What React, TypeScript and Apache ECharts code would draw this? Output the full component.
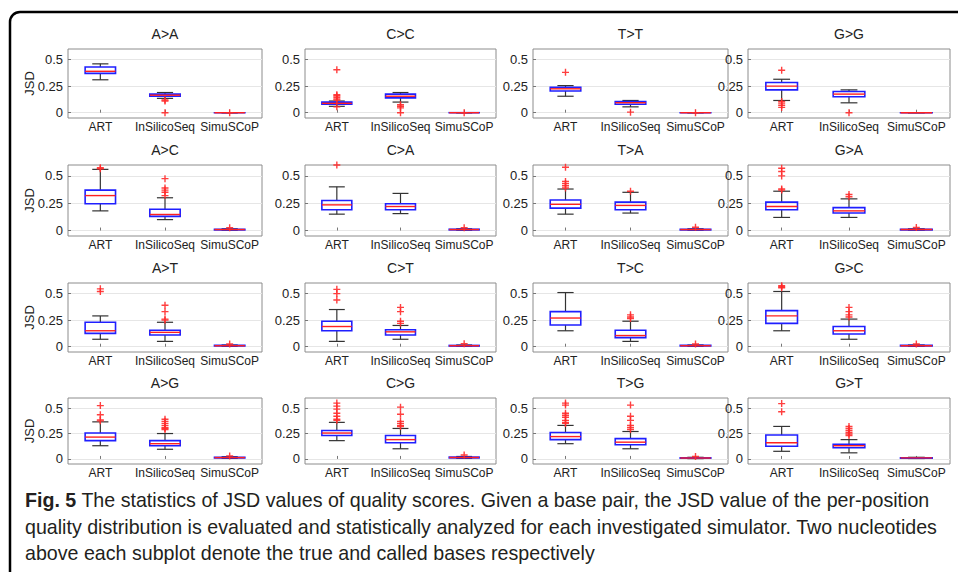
import React, { useEffect, useRef } from 'react';
import * as echarts from 'echarts';

// ---------- data ----------
const panelTitles = ['A>A', 'C>C', 'T>T', 'G>G', 'A>C', 'C>A', 'T>A', 'G>A', 'A>T', 'C>T', 'T>C', 'G>C', 'A>G', 'C>G', 'T>G', 'G>T'];
const simulators = ['ART', 'InSilicoSeq', 'SimuSCoP'];
const yTicks = [0, 0.25, 0.5];

// [lower whisker, Q1, median, Q3, upper whisker] per panel
const artStats = [
  [0.31, 0.37, 0.39, 0.43, 0.46],
  [0.06, 0.08, 0.088, 0.1, 0.11],
  [0.155, 0.205, 0.225, 0.24, 0.255],
  [0.115, 0.215, 0.25, 0.285, 0.315],
  [0.18, 0.245, 0.32, 0.37, 0.56],
  [0.15, 0.19, 0.235, 0.275, 0.4],
  [0.15, 0.205, 0.24, 0.28, 0.38],
  [0.12, 0.19, 0.22, 0.26, 0.36],
  [0.07, 0.125, 0.15, 0.23, 0.29],
  [0.05, 0.15, 0.19, 0.24, 0.35],
  [0.15, 0.205, 0.27, 0.33, 0.51],
  [0.15, 0.22, 0.29, 0.34, 0.52],
  [0.13, 0.18, 0.215, 0.255, 0.365],
  [0.18, 0.23, 0.255, 0.28, 0.36],
  [0.15, 0.19, 0.22, 0.26, 0.33],
  [0.075, 0.125, 0.16, 0.235, 0.32],
];
const issStats = [
  [0.135, 0.155, 0.165, 0.175, 0.19],
  [0.1, 0.14, 0.155, 0.175, 0.19],
  [0.055, 0.08, 0.094, 0.105, 0.115],
  [0.093, 0.15, 0.175, 0.2, 0.215],
  [0.1, 0.13, 0.147, 0.195, 0.3],
  [0.155, 0.19, 0.22, 0.245, 0.34],
  [0.16, 0.19, 0.23, 0.26, 0.35],
  [0.12, 0.16, 0.18, 0.21, 0.29],
  [0.05, 0.11, 0.135, 0.155, 0.23],
  [0.07, 0.11, 0.14, 0.16, 0.2],
  [0.05, 0.085, 0.105, 0.155, 0.24],
  [0.07, 0.12, 0.15, 0.19, 0.26],
  [0.095, 0.13, 0.15, 0.18, 0.25],
  [0.1, 0.16, 0.19, 0.23, 0.3],
  [0.1, 0.14, 0.165, 0.2, 0.27],
  [0.06, 0.11, 0.13, 0.145, 0.19],
];
const simStats = [
  [0, 0, 0, 0, 0],
  [0, 0, 0, 0, 0],
  [0, 0, 0, 0, 0],
  [0, 0, 0, 0, 0],
  [0.003, 0.006, 0.009, 0.012, 0.016],
  [0.003, 0.006, 0.009, 0.012, 0.016],
  [0.003, 0.006, 0.009, 0.012, 0.016],
  [0.003, 0.006, 0.009, 0.012, 0.016],
  [0.003, 0.006, 0.009, 0.012, 0.016],
  [0.003, 0.006, 0.009, 0.012, 0.016],
  [0.003, 0.006, 0.009, 0.012, 0.016],
  [0.003, 0.006, 0.009, 0.012, 0.016],
  [0.005, 0.01, 0.013, 0.017, 0.022],
  [0.005, 0.01, 0.014, 0.018, 0.024],
  [0.003, 0.006, 0.009, 0.012, 0.016],
  [0.004, 0.007, 0.01, 0.012, 0.016],
];

const artOutliers = [
  [],
  [0.405, 0.17, 0.16, 0.145, 0.13, 0.12, 0.055],
  [0.38],
  [0.4, 0.105, 0.09, 0.07, 0.05],
  [0.575, 0.565],
  [0.6],
  [0.58, 0.45, 0.43, 0.41, 0.39],
  [0.57, 0.54, 0.5, 0.38, 0.37],
  [0.545, 0.52],
  [0.54, 0.5, 0.44],
  [],
  [0.575, 0.565, 0.555],
  [0.525, 0.435, 0.385, 0.375],
  [0.55, 0.52, 0.49, 0.45, 0.42, 0.39, 0.38],
  [0.55, 0.53, 0.45, 0.43, 0.41, 0.38, 0.36, 0.35],
  [0.545, 0.465],
];
const issOutliers = [
  [0.12, 0.11, 0],
  [0.075, 0.06, 0.045, 0],
  [0.005],
  [0],
  [0.475, 0.39, 0.37, 0.35, 0.32],
  [],
  [0.36],
  [0.33, 0.31],
  [0.39, 0.33, 0.26, 0.25],
  [0.37, 0.33, 0.24, 0.22],
  [0.3, 0.28, 0.265],
  [0.37, 0.33, 0.3, 0.28],
  [0.39, 0.37, 0.35, 0.33, 0.31, 0.3, 0.29],
  [0.51, 0.44, 0.37, 0.35, 0.33, 0.32],
  [0.53, 0.42, 0.38, 0.33, 0.31, 0.29],
  [0.32, 0.3, 0.28, 0.26, 0.245, 0.23],
];
const simOutliers = [
  [0], [0], [0], [],
  [0.025], [0.025], [0.03], [0.028],
  [0.025], [0.028], [0.025], [0.025],
  [0.03], [0.038], [0.025], [],
];

const captionLines = [
  'The statistics of JSD values of quality scores. Given a base pair, the JSD value of the per-position',
  'quality distribution is evaluated and statistically analyzed for each investigated simulator. Two nucleotides',
  'above each subplot denote the true and called bases respectively',
];
const captionLabel = 'Fig. 5';

// ---------- layout ----------
const colLeft = [68, 305, 533, 748];
const colRight = [262, 496, 728, 950];
const rowTop = [49, 165, 283, 398];
const rowBottom = [118, 236, 352, 464];
const FONT = '"Liberation Sans", Arial, Helvetica, sans-serif';
const CAP_FONT = '"Liberation Sans", Arial, sans-serif';
const CAP_SIZE = 20;

const plusSymbol = 'path://M4,0H6V4H10V6H6V10H4V6H0V4H4Z';

function measure(font: string, text: string) {
  const ctx = document.createElement('canvas').getContext('2d');
  if (!ctx) return text.length * 9;
  ctx.font = font;
  return ctx.measureText(text).width;
}

export default function App() {
  const ref = useRef<HTMLDivElement>(null);

  useEffect(() => {
    if (!ref.current) return;
    const chart = echarts.init(ref.current, null, { renderer: 'svg' });

    const grids: any[] = [];
    const xAxes: any[] = [];
    const yAxes: any[] = [];
    const series: any[] = [];
    const titles: any[] = [];
    const statsBySim = [artStats, issStats, simStats];
    const outBySim = [artOutliers, issOutliers, simOutliers];

    panelTitles.forEach((t, i) => {
      const r = Math.floor(i / 4);
      const c = i % 4;
      const left = colLeft[c];
      const top = rowTop[r];
      const width = colRight[c] - left;
      const height = rowBottom[r] - top;
      grids.push({ left, top, width, height, show: true, borderColor: '#8c8c8c', borderWidth: 1, backgroundColor: '#fff' });
      titles.push({
        text: t,
        left: left + width / 2,
        top: top - 22,
        textAlign: 'center',
        padding: 0,
        textStyle: { fontSize: 14, fontWeight: 'normal', color: '#222', fontFamily: FONT },
      });
      xAxes.push({
        type: 'category',
        gridIndex: i,
        data: simulators,
        boundaryGap: true,
        axisLine: { show: false },
        axisTick: { show: true, inside: true, length: 3, alignWithLabel: true, lineStyle: { color: '#777' } },
        axisLabel: { color: '#222', fontSize: 12, fontFamily: FONT, margin: 3, interval: 0 },
        splitLine: { show: false },
      });
      yAxes.push({
        type: 'value',
        gridIndex: i,
        min: -0.05,
        max: 0.6,
        axisLine: { show: false },
        axisTick: { show: true, inside: true, length: 3, customValues: yTicks, lineStyle: { color: '#777' } },
        axisLabel: { customValues: yTicks, color: '#222', fontSize: 13, fontFamily: FONT, margin: 5, formatter: (v: number) => String(v) },
        splitLine: { show: true, lineStyle: { color: '#e6e6e6', width: 1 } },
        name: c === 0 ? 'JSD' : '',
        nameLocation: 'middle',
        nameRotate: 90,
        nameGap: 32,
        nameMoveOverlap: false,
        nameTextStyle: { fontSize: 13, color: '#222', fontFamily: FONT },
      });

      series.push({
        type: 'custom',
        xAxisIndex: i,
        yAxisIndex: i,
        z: 2,
        data: simulators.map((_, k) => [k, ...statsBySim[k][i]]),
        encode: { x: 0, y: [1, 2, 3, 4, 5] },
        renderItem: (params: any, api: any) => {
          const k = api.value(0);
          const lo = api.coord([k, api.value(1)]);
          const q1 = api.coord([k, api.value(2)]);
          const md = api.coord([k, api.value(3)]);
          const q3 = api.coord([k, api.value(4)]);
          const hi = api.coord([k, api.value(5)]);
          const band = api.size([1, 0])[0];
          const bw = band * 0.47;
          const cw = band * 0.25;
          const cx = md[0];
          const wStyle = { stroke: '#333', lineWidth: 1.2 };
          return {
            type: 'group',
            children: [
              { type: 'line', shape: { x1: cx, y1: lo[1], x2: cx, y2: q1[1] }, style: wStyle },
              { type: 'line', shape: { x1: cx, y1: q3[1], x2: cx, y2: hi[1] }, style: wStyle },
              { type: 'line', shape: { x1: cx - cw / 2, y1: lo[1], x2: cx + cw / 2, y2: lo[1] }, style: wStyle },
              { type: 'line', shape: { x1: cx - cw / 2, y1: hi[1], x2: cx + cw / 2, y2: hi[1] }, style: wStyle },
              {
                type: 'rect',
                shape: { x: cx - bw / 2, y: q3[1], width: bw, height: Math.max(q1[1] - q3[1], 0.01) },
                style: { fill: 'none', stroke: '#1f1fff', lineWidth: 1.6 },
              },
              { type: 'line', shape: { x1: cx - bw / 2, y1: md[1], x2: cx + bw / 2, y2: md[1] }, style: { stroke: '#ff2020', lineWidth: 1.4 } },
            ],
          };
        },
      });

      const pts: number[][] = [];
      simulators.forEach((_, k) => outBySim[k][i].forEach((v) => pts.push([k, v])));
      series.push({
        type: 'scatter',
        xAxisIndex: i,
        yAxisIndex: i,
        z: 3,
        symbol: plusSymbol,
        symbolSize: 7,
        itemStyle: { color: '#ff2a2a', opacity: 0.9 },
        data: pts,
      });
    });

    // caption, horizontally condensed to fit the reference line width
    const w1 =
      measure(`bold ${CAP_SIZE}px ${CAP_FONT}`, captionLabel) +
      measure(`${CAP_SIZE}px ${CAP_FONT}`, ' ' + captionLines[0]);
    const sx = 905 / w1;
    const lineY = [500, 527, 553];
    const captionTexts = captionLines.map((line, j) => ({
      type: 'text',
      x: 0,
      y: lineY[j],
      style: {
        text: j === 0 ? `{b|${captionLabel}} ${line}` : line,
        fill: '#231f20',
        fontSize: CAP_SIZE,
        fontFamily: CAP_FONT,
        verticalAlign: 'middle',
        rich: { b: { fontWeight: 'bold', fontSize: CAP_SIZE, fontFamily: CAP_FONT, fill: '#231f20' } },
      },
    }));

    chart.setOption({
      animation: false,
      backgroundColor: '#fff',
      title: titles,
      grid: grids,
      xAxis: xAxes,
      yAxis: yAxes,
      series,
      graphic: [
        {
          type: 'rect',
          shape: { x: 10, y: 12, width: 1000, height: 700, r: 10 },
          style: { fill: 'none', stroke: '#000', lineWidth: 2.5 },
          z: 0,
        },
        { type: 'group', x: 25, y: 0, scaleX: sx, children: captionTexts },
      ],
    });

    return () => chart.dispose();
  }, []);

  return <div ref={ref} style={{ position: 'absolute', left: 0, top: 0, width: 958, height: 572, background: '#fff' }} />;
}
